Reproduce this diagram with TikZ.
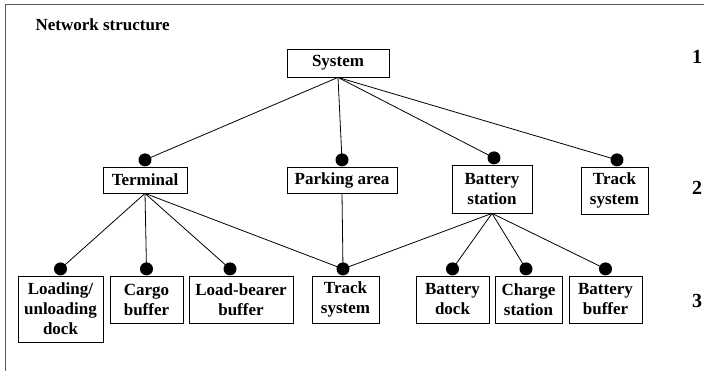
\documentclass[tikz,border=0pt]{standalone}
\usepackage{fontspec}
\setmainfont{Liberation Serif}
\usetikzlibrary{positioning,calc}

\begin{document}
\begin{tikzpicture}[x=1pt,y=-1pt,font=\bfseries\fontsize{17}{20}\selectfont]

  \tikzset{
    unit/.style={draw,line width=0.8pt,align=center,inner sep=3pt,minimum height=26pt},
    link/.style={circle,fill,inner sep=0pt,minimum size=13pt},
    lvl/.style={font=\bfseries\fontsize{20}{24}\selectfont},
  }

  \useasboundingbox (0,0) rectangle (704,371);
  \draw[gray!70!black,line width=1pt] (5,371) -- (5,5) -- (704,5);

  \node[anchor=west] (title) at (32,25) {Network structure};
  \node[lvl] (one)   at (697,57)  {1};
  \node[lvl] (two)   at (697,188) {2};
  \node[lvl] (three) at (697,301) {3};

  % level 1 and 2
  \node[unit,minimum width=102pt,minimum height=28pt] (sys) at (338,63) {System};
  \node[unit,minimum width=84pt]  (term) at (145,180) {Terminal};
  \node[unit,minimum width=110pt] (park) at (342,180) {Parking area};
  \node[unit,minimum width=80pt,minimum height=48pt] (batst) at (492,189) {Battery\\station};
  \node[unit,minimum width=67pt,minimum height=47pt] (track) at (614.5,190.5) {Track\\system};

  % level 3
  \node[unit,minimum width=85pt,minimum height=66pt]  (load)   at (60.5,309)    {Loading/\\unloading\\dock};
  \node[unit,minimum width=73pt,minimum height=47pt]  (cargo)  at (146.5,299.5) {Cargo\\buffer};
  \node[unit,minimum width=104pt,minimum height=47pt] (bearer) at (241,299.5)   {Load-bearer\\buffer};
  \node[unit,minimum width=67pt,minimum height=47pt]  (lane)   at (345.5,299.5) {Track\\system};
  \node[unit,minimum width=73pt,minimum height=47pt]  (dock)   at (452.5,299.5) {Battery\\dock};
  \node[unit,minimum width=67pt,minimum height=47pt]  (charge) at (528.5,299.5) {Charge\\station};
  \node[unit,minimum width=73pt,minimum height=47pt]  (bbuf)   at (605.5,299.5) {Battery\\buffer};

  \node[link] (dterm)  [above=0pt of term.north] {};
  \node[link] (dpark)  [above=0pt of park.north] {};
  \node[link] (dbatst) [above=0pt of batst.north,xshift=2pt] {};
  \node[link] (dtrack) [above=0pt of track.north,xshift=2.5pt] {};

  \node[link] (dload)   [above=0pt of load.north] {};
  \node[link] (dcargo)  [above=0pt of cargo.north] {};
  \node[link] (dbearer) [above=0pt of bearer.north,xshift=-11pt] {};
  \node[link] (dlane)   [above=0pt of lane.north,xshift=-2.5pt] {};
  \node[link] (ddock)   [above=0pt of dock.north] {};
  \node[link] (dcharge) [above=0pt of charge.north,xshift=-2.5pt] {};
  \node[link] (dbbuf)   [above=0pt of bbuf.north] {};

  \foreach \d in {dterm,dpark,dbatst,dtrack}
    \draw[line width=0.8pt] (sys.south) -- (\d.center);
  \foreach \d in {dload,dcargo,dbearer,dlane}
    \draw[line width=0.8pt] (term.south) -- (\d.center);
  \draw[line width=0.8pt] (park.south) -- (dlane.center);
  \foreach \d in {dlane,ddock,dcharge,dbbuf}
    \draw[line width=0.8pt] (batst.south) -- (\d.center);

\end{tikzpicture}
\end{document}
